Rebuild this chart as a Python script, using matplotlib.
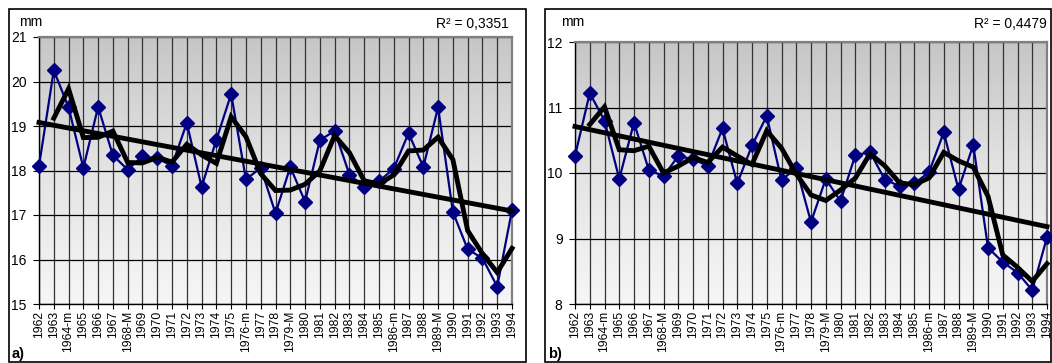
import numpy as np
import matplotlib
matplotlib.use("Agg")
import matplotlib.pyplot as plt
from matplotlib.colors import LinearSegmentedColormap
from matplotlib.patches import Rectangle

plt.rcParams["font.family"] = ["Liberation Sans", "DejaVu Sans"]

# Data
years = ["1962", "1963", "1964-m", "1965", "1966", "1967", "1968-M", "1969", "1970",
         "1971", "1972", "1973", "1974", "1975", "1976-m", "1977", "1978", "1979-M",
         "1980", "1981", "1982", "1983", "1984", "1985", "1986-m", "1987", "1988",
         "1989-M", "1990", "1991", "1992", "1993", "1994"]
vals_a = [18.10, 20.25, 19.42, 18.06, 19.43, 18.34, 18.02, 18.32, 18.27, 18.11, 19.07,
          17.63, 18.69, 19.72, 17.80, 18.06, 17.04, 18.08, 17.30, 18.68, 18.89, 17.91,
          17.63, 17.76, 18.04, 18.84, 18.08, 19.42, 17.07, 16.23, 16.03, 15.39, 17.11]
vals_b = [10.26, 11.22, 10.80, 9.91, 10.77, 10.05, 9.95, 10.26, 10.21, 10.11, 10.68,
          9.84, 10.42, 10.87, 9.89, 10.08, 9.25, 9.91, 9.57, 10.27, 10.32, 9.90,
          9.80, 9.84, 10.01, 10.62, 9.75, 10.43, 8.86, 8.64, 8.48, 8.21, 9.02]
r2_a = "R² = 0,3351"
r2_b = "R² = 0,4479"

W, H = 1052, 363
fig = plt.figure(figsize=(W / 100, H / 100), dpi=100)
grad = LinearSegmentedColormap.from_list("bg", ["#c6c6c6", "#e4e4e4", "#f6f6f6"])


def px_axes(x0, y0, x1, y1):
    return fig.add_axes([x0 / W, 1 - y1 / H, (x1 - x0) / W, (y1 - y0) / H])


def frame(x0, y0, x1, y1):
    fig.patches.append(Rectangle((x0 / W, 1 - y1 / H), (x1 - x0) / W, (y1 - y0) / H,
                                 transform=fig.transFigure, fc="white", ec="black",
                                 lw=1.2, zorder=-5))


def panel(ax, vals, ylim, r2, letter, fx0, mm_x, r2_x):
    x = np.arange(len(vals))
    v = np.array(vals)
    ax.imshow(np.linspace(0, 1, 256).reshape(-1, 1), cmap=grad, aspect="auto",
              extent=[0, 1, 0, 1], transform=ax.transAxes, origin="upper", zorder=0)
    ax.set_xlim(0, len(vals) - 1)
    ax.set_ylim(*ylim)
    ax.set_yticks(range(ylim[0], ylim[1] + 1))
    ax.set_xticks(x)
    ax.set_xticklabels(years, rotation=90, fontsize=8.7)
    ax.tick_params(axis="x", length=3.5, pad=1.5, width=0.8)
    ax.tick_params(axis="y", length=4, pad=5, labelsize=10, width=0.8)
    ax.set_axisbelow(True)
    ax.grid(axis="y", color="black", lw=0.9)
    ax.grid(axis="x", color="#333333", lw=0.9)
    for s in ["top", "right"]:
        ax.spines[s].set_color("#808080")
        ax.spines[s].set_linewidth(1.6)
    for s in ["left", "bottom"]:
        ax.spines[s].set_linewidth(1.0)

    # linear trend and 2-period moving average (Excel trendlines)
    k, b = np.polyfit(x, v, 1)
    ma = (v[1:] + v[:-1]) / 2
    ax.plot(x, v, color="#000080", lw=1.6, marker="D", ms=7.5, zorder=3, clip_on=False)
    ax.plot(x, k * x + b, color="black", lw=3.5, zorder=4, clip_on=False)
    ax.plot(x[1:], ma, color="black", lw=3.5, zorder=4, clip_on=False,
            solid_joinstyle="miter")

    fig.text(mm_x / W, 1 - 22 / H, "mm", fontsize=10, va="center")
    fig.text(r2_x / W, 1 - 24 / H, r2, fontsize=10, va="center", ha="right")
    fig.text((fx0 + 3) / W, 1 - 354 / H, letter, fontsize=10.5, fontweight="bold",
             va="center")


frame(9, 9, 526, 362)
frame(545, 9, 1051, 362)

ax_a = px_axes(39, 37, 512, 304)
panel(ax_a, vals_a, (15, 21), r2_a, "a)", 9, 19, 509)

ax_b = px_axes(575, 42, 1047, 304)
panel(ax_b, vals_b, (8, 12), r2_b, "b)", 545, 561, 1047)

fig.savefig("out.png", dpi=100)
